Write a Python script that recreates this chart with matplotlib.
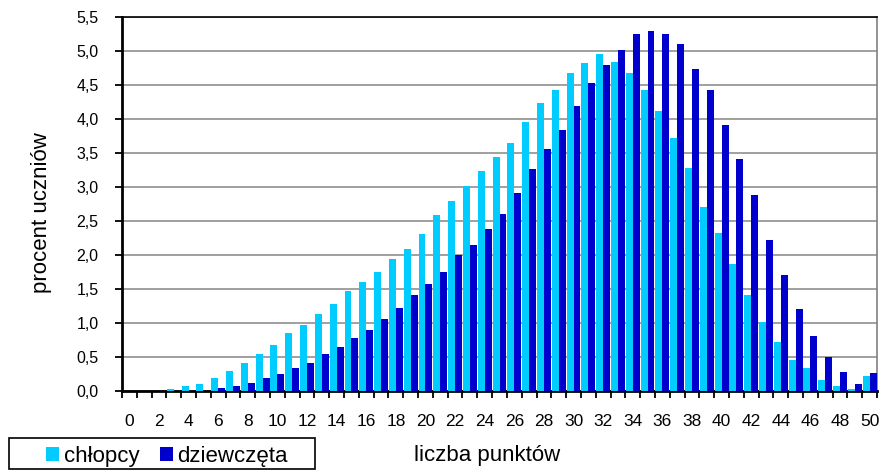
import numpy as np
import matplotlib
matplotlib.use("Agg")
import matplotlib.pyplot as plt
from matplotlib.patches import Rectangle

plt.rcParams["font.family"] = ["Liberation Sans", "DejaVu Sans"]

punkty = list(range(0, 51))
chlopcy = [0, 0, 0, 0.03, 0.07, 0.10, 0.18, 0.29, 0.41, 0.54,
           0.67, 0.85, 0.97, 1.13, 1.28, 1.47, 1.60, 1.75, 1.94, 2.08,
           2.30, 2.58, 2.79, 3.02, 3.23, 3.44, 3.64, 3.96, 4.23, 4.43,
           4.67, 4.82, 4.95, 4.84, 4.67, 4.43, 4.12, 3.72, 3.28, 2.71,
           2.32, 1.86, 1.41, 1.01, 0.71, 0.45, 0.33, 0.16, 0.07, 0.03, 0.22]
dziewczeta = [0, 0, 0, 0, 0, 0, 0.04, 0.07, 0.12, 0.18,
              0.24, 0.33, 0.41, 0.54, 0.65, 0.77, 0.90, 1.05, 1.22, 1.41,
              1.57, 1.75, 1.99, 2.15, 2.38, 2.60, 2.91, 3.27, 3.55, 3.83,
              4.19, 4.53, 4.79, 5.02, 5.25, 5.29, 5.25, 5.10, 4.74, 4.42,
              3.91, 3.41, 2.88, 2.22, 1.70, 1.20, 0.80, 0.50, 0.28, 0.10, 0.26]
y_ticks = np.arange(0, 5.51, 0.5)

fig = plt.figure(figsize=(8.8, 4.7), dpi=100)
ax = fig.add_axes([122 / 880, 1 - 390.7 / 470, 755 / 880, 373.7 / 470])

x = np.array(punkty)
w = 0.47
ax.bar(x - w / 2, chlopcy, width=w, color="#00ccff", linewidth=0, label="chłopcy", zorder=3)
ax.bar(x + w / 2, dziewczeta, width=w, color="#0000cc", linewidth=0, label="dziewczęta", zorder=3)

ax.set_xlim(-0.5, 50.5)
ax.set_ylim(0, 5.5)

ax.set_yticks(y_ticks)
ax.set_yticklabels([f"{v:.1f}".replace(".", ",") for v in y_ticks], fontsize=11.5)
ax.yaxis.grid(True, color="#999999", linewidth=1.3, zorder=0)
ax.tick_params(axis="y", direction="out", length=5, width=1.3, pad=12)

# labels on even points, tick marks between categories
ax.set_xticks(x[::2])
ax.set_xticklabels([str(v) for v in x[::2]], fontsize=12.5,
                   family=["Liberation Sans Narrow", "Liberation Sans"])
ax.set_xticks(np.arange(-0.5, 51, 1), minor=True)
ax.tick_params(axis="x", which="major", length=0, pad=17)
ax.tick_params(axis="x", which="minor", direction="out", length=5, width=1.3)

ax.spines["left"].set_linewidth(2)
ax.spines["bottom"].set_linewidth(2)
ax.spines["top"].set_linewidth(1.2)
ax.spines["right"].set_linewidth(1.2)
ax.spines["right"].set_color("#808080")

fig.text(42 / 880, 1 - 213 / 470, "procent uczniów", rotation=90, ha="center", va="center", fontsize=16)
fig.text(487 / 880, 1 - 456 / 470, "liczba punktów", ha="center", va="center", fontsize=16)

# legend box drawn separately, entries centred inside
fig.patches.append(Rectangle((9 / 880, 1 / 470), 306 / 880, 31 / 470, transform=fig.transFigure,
                             facecolor="white", edgecolor="black", linewidth=1.2))
fig.legend(loc="center", bbox_to_anchor=(167 / 880, 1 - 456.5 / 470), ncol=2, fontsize=16,
           frameon=False, handlelength=0.6, handleheight=0.6, handletextpad=0.2,
           borderpad=0, borderaxespad=0, columnspacing=0.9)

plt.savefig("out.png", dpi=100)
